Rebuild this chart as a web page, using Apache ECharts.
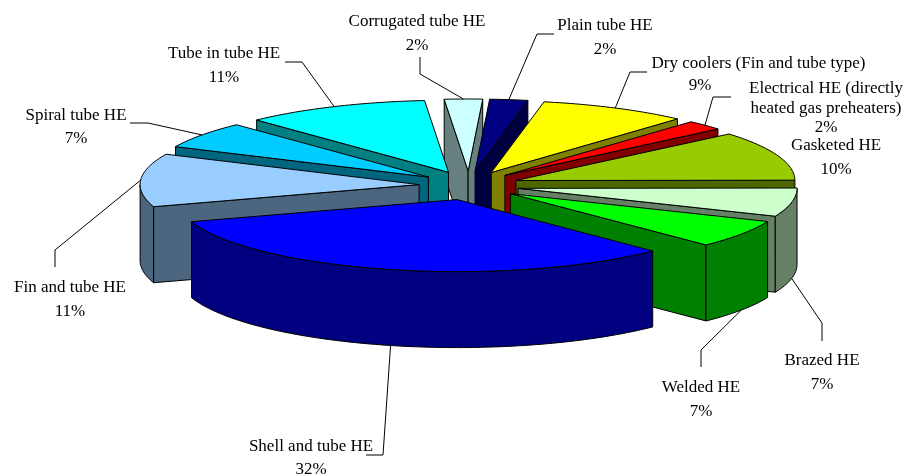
<!DOCTYPE html>
<html>
<head>
<meta charset="utf-8">
<style>html,body{margin:0;padding:0;background:#fff}#c{width:906px;height:476px}</style>
<script src="https://cdn.jsdelivr.net/npm/echarts@6/dist/echarts.min.js"></script>
</head>
<body>
<div id="c"></div>
<script>
// ---- data (clockwise from the back of the pie) ----
const categories = ['Corrugated tube HE','Plain tube HE','Dry coolers (Fin and tube type)','Electrical HE (directly heated gas preheaters)','Gasketed HE','Brazed HE','Welded HE','Shell and tube HE','Fin and tube HE','Spiral tube HE','Tube in tube HE'];
// percentages printed on the labels
const labelPercents = [2,2,9,2,10,7,7,32,11,7,11];
// slice shares as measured on the drawing (the perspective shifts them from the printed rounding)
const sliceShares = [2.2,2.2,8.6,2.2,11.1,6.4,6.3,32.4,11.9,6.0,10.7];

// ---- styles ----
const topColors  = ['#CCFFFF','#000080','#FFFF00','#FF0000','#99CC00','#CCFFCC','#00FF00','#0000FF','#99CCFF','#00CCFF','#00FFFF'];
const sideColors = ['#668080','#000040','#808000','#800000','#4D6600','#668066','#008000','#000080','#4D6680','#006680','#008080'];

// ---- layout ----
const CX = 469, CY = 185.5, RX = 279, RY = 72, DEPTH = 76, EXPLODE_X = 50, EXPLODE_Y = 14.5;
const START = -0.086;
const paintOrder = [0,10,9,8,1,2,3,4,5,6,7];
const labelLines = [
  ['Corrugated tube HE'],['Plain tube HE'],['Dry coolers (Fin and tube type)'],
  ['Electrical HE (directly','heated gas preheaters)'],['Gasketed HE'],['Brazed HE'],['Welded HE'],
  ['Shell and tube HE'],['Fin and tube HE'],['Spiral tube HE'],['Tube in tube HE']
];
// centre x of each label's text lines, then of its percentage line
const labelX = [[417,417],[605,605],[758.5,700],[826,826],[836,836],[822,822],[701,701],[311,311],[70,70],[76,76],[224,224]];
const labelY = [[21.5,45.5],[25.5,50],[64,85.5],[88.5,108.5,128],[145.5,169.5],[360.5,384.5],[387.5,411.5],[446.5,469.5],[287.5,311.5],[115.5,138.5],[53.5,77.5]];
const leaderBends = [
  [[420,57],[420,74]],[[554,34],[537,34]],[[647,72],[630,72]],[[731,97],[713,97]],null,
  [[822,341],[822,323]],[[701,367],[701,350]],[[366,455],[383,455]],[[55,267],[55,250]],
  [[130,123],[148,123]],[[285,62],[302,62]]
];

const total = sliceShares.reduce((a,b)=>a+b,0);
const sweeps = []; let acc = START;
sliceShares.forEach(v=>{ const s = acc, e = acc + v/total*Math.PI*2; sweeps.push({s,e,m:(s+e)/2}); acc = e; });

function apex(i){ const m = sweeps[i].m; return [CX+EXPLODE_X*Math.sin(m), CY-EXPLODE_Y*Math.cos(m)]; }
function rim(a,t){ return [a[0]+RX*Math.sin(t), a[1]-RY*Math.cos(t)]; }
function down(p){ return [p[0],p[1]+DEPTH]; }
function arc(a,s,e){ const pts=[], n=Math.max(2,Math.ceil((e-s)/0.02)); for(let k=0;k<=n;k++) pts.push(rim(a,s+(e-s)*k/n)); return pts; }
const LINE = {stroke:'#000',lineWidth:1,lineJoin:'round'};
function face(points,fill){ return {type:'polygon',silent:true,shape:{points},style:Object.assign({fill},LINE)}; }

function renderSlice(params,api){
  const i = api.value(1), {s,e} = sweeps[i], a = apex(i), kids = [];
  const side = sideColors[i];
  if(Math.sin(s)<0){ const p=rim(a,s); kids.push(face([a,p,down(p),down(a)],side)); }
  if(Math.sin(e)>0){ const p=rim(a,e); kids.push(face([a,p,down(p),down(a)],side)); }
  // curved outer wall: the arc's part that faces the viewer
  const w0=Math.max(s,Math.PI/2), w1=Math.min(e,Math.PI*1.5);
  if(w1>w0){ const top=arc(a,w0,w1); kids.push(face(top.concat(top.map(down).reverse()),side)); }
  kids.push(face([a].concat(arc(a,s,e)),topColors[i]));
  return {type:'group',children:kids};
}

function renderLabel(params,api){
  const i = api.value(0), kids = [];
  const a = apex(i), m = sweeps[i].m;
  const r = rim(a,m); const anchor = Math.cos(m)<0 ? down(r) : r;
  if(leaderBends[i]) kids.push({type:'polyline',silent:true,shape:{points:leaderBends[i].concat([anchor])},style:{fill:null,stroke:'#000',lineWidth:1}});
  const lines = labelLines[i].concat([labelPercents[i]+'%']);
  lines.forEach((t,k)=>kids.push({type:'text',silent:true,style:{text:t,x:k===lines.length-1?labelX[i][1]:labelX[i][0],y:labelY[i][k],textAlign:'center',textVerticalAlign:'middle',fill:'#000',font:'17px "Liberation Serif"'}}));
  return {type:'group',children:kids};
}

const chart = echarts.init(document.getElementById('c'),null,{width:906,height:476});
chart.setOption({
  animation:false,
  backgroundColor:'#fff',
  series:[
    {type:'custom',coordinateSystem:'none',silent:true,z:2,renderItem:renderSlice,
     data:paintOrder.map(i=>({name:categories[i],value:[sliceShares[i],i]}))},
    {type:'custom',coordinateSystem:'none',silent:true,z:3,renderItem:renderLabel,
     data:categories.map((c,i)=>({name:c,value:[i,labelPercents[i]]}))}
  ]
});
</script>
</body>
</html>
